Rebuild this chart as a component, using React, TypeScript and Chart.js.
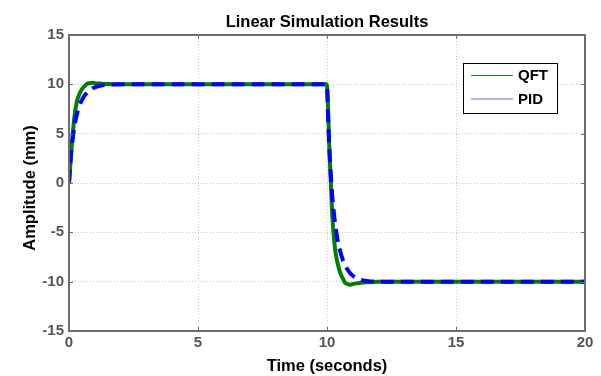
import React, { useEffect, useRef } from "react";
import { Chart, registerables } from "chart.js";

Chart.register(...registerables);

const chartTitle = "Linear Simulation Results";
const xTitle = "Time (seconds)";
const yTitle = "Amplitude (mm)";
const xTicks = [0, 5, 10, 15, 20];
const yTicks = [-15, -10, -5, 0, 5, 10, 15];

const qftTime = [0, 0.1, 0.2, 0.3, 0.4, 0.5, 0.6, 0.7, 0.8, 0.9, 1.0, 1.2, 1.5, 2, 5, 9.99,
  10.1, 10.2, 10.3, 10.4, 10.5, 10.6, 10.7, 10.8, 10.9, 11.0, 11.2, 11.5, 12, 15, 20];
const qftValues = [0, 3.5, 6.5, 8.2, 9.0, 9.5, 9.8, 10.05, 10.12, 10.15, 10.12, 10.08, 10.03, 10.0, 10.0, 10.0,
  3.0, -3.0, -6.4, -8.0, -9.0, -9.6, -10.1, -10.24, -10.3, -10.24, -10.16, -10.06, -10.0, -10.0, -10.0];

const pidTime = [0, 0.05, 0.1, 0.2, 0.3, 0.4, 0.5, 0.6, 0.7, 0.8, 0.9, 1.0, 1.2, 1.4, 1.7, 2, 5, 9.99,
  10.05, 10.1, 10.2, 10.3, 10.4, 10.5, 10.6, 10.7, 10.8, 10.9, 11.0, 11.2, 11.4, 11.7, 12, 15, 20];
const pidValues = [0, 2.0, 3.5, 5.6, 6.9, 7.8, 8.4, 8.85, 9.15, 9.4, 9.58, 9.7, 9.85, 9.94, 9.99, 10.0, 10.0, 10.0,
  6.0, 3.0, -1.2, -3.8, -5.6, -6.8, -7.7, -8.3, -8.8, -9.15, -9.4, -9.7, -9.88, -9.98, -10.0, -10.0, -10.0];

const seriesNames = ["QFT", "PID"];

const FONT = "'Liberation Sans', Arial, sans-serif";

const decorPlugin = {
  id: "decor",
  afterDraw(chart: any) {
    const { ctx, chartArea } = chart;
    const { left, right, top, bottom } = chartArea;
    ctx.save();
    // frame
    ctx.strokeStyle = "#6e6e6e";
    ctx.lineWidth = 2;
    ctx.strokeRect(left, top, right - left, bottom - top);
    // inward ticks
    ctx.lineWidth = 1;
    const xs = chart.scales.x;
    const ys = chart.scales.y;
    xTicks.forEach((v) => {
      const px = Math.round(xs.getPixelForValue(v)) + 0.5;
      ctx.beginPath();
      ctx.moveTo(px, bottom); ctx.lineTo(px, bottom - 4);
      ctx.moveTo(px, top); ctx.lineTo(px, top + 4);
      ctx.stroke();
    });
    yTicks.forEach((v) => {
      const py = Math.round(ys.getPixelForValue(v)) + 0.5;
      ctx.beginPath();
      ctx.moveTo(left, py); ctx.lineTo(left + 4, py);
      ctx.moveTo(right, py); ctx.lineTo(right - 4, py);
      ctx.stroke();
    });
    // title and axis titles
    ctx.fillStyle = "#000";
    ctx.font = `bold 16.5px ${FONT}`;
    ctx.textAlign = "center";
    ctx.textBaseline = "middle";
    ctx.fillText(chartTitle, (left + right) / 2, 22);
    ctx.fillText(xTitle, (left + right) / 2, 366);
    ctx.save();
    ctx.translate(30, (top + bottom) / 2 + 5);
    ctx.rotate(-Math.PI / 2);
    ctx.fillText(yTitle, 0, 0);
    ctx.restore();
    // legend
    const lx = 463, ly = 63, lw = 94, lh = 50;
    ctx.fillStyle = "#fff";
    ctx.fillRect(lx, ly, lw, lh);
    ctx.strokeStyle = "#000";
    ctx.lineWidth = 1;
    ctx.strokeRect(lx + 0.5, ly + 0.5, lw, lh);
    const colors = ["#1a8c1a", "#6666ff"];
    ctx.font = `bold 15px ${FONT}`;
    seriesNames.forEach((name, i) => {
      const y = ly + 12 + i * 23.5;
      ctx.strokeStyle = colors[i];
      ctx.lineWidth = 1;
      ctx.beginPath();
      ctx.moveTo(lx + 8, y + 0.5);
      ctx.lineTo(lx + 50, y + 0.5);
      ctx.stroke();
      ctx.fillStyle = "#000";
      ctx.textAlign = "left";
      ctx.fillText(name, lx + 55, y + 1);
    });
    ctx.restore();
  },
};

export default function App() {
  const ref = useRef<HTMLCanvasElement>(null);
  useEffect(() => {
    if (!ref.current) return;
    const chart = new Chart(ref.current, {
      type: "line",
      data: {
        datasets: [
          {
            label: seriesNames[0],
            data: qftTime.map((t, i) => ({ x: t, y: qftValues[i] })),
            borderColor: "#008000",
            borderWidth: 4,
            pointRadius: 0,
            cubicInterpolationMode: "monotone",
            order: 2,
          },
          {
            label: seriesNames[1],
            data: pidTime.map((t, i) => ({ x: t, y: pidValues[i] })),
            borderColor: "#0000ff",
            borderWidth: 4,
            borderDash: [13, 7],
            pointRadius: 0,
            cubicInterpolationMode: "monotone",
            order: 1,
          },
        ],
      },
      options: {
        responsive: false,
        animation: false,
        layout: { padding: { left: 0, right: 16, top: 35, bottom: 0 } },
        plugins: { legend: { display: false }, title: { display: false }, tooltip: { enabled: false } },
        scales: {
          x: {
            type: "linear",
            min: 0,
            max: 20,
            afterFit: (s: any) => { s.height = 45; },
            afterBuildTicks: (s: any) => { s.ticks = xTicks.map((v) => ({ value: v })); },
            ticks: { color: "#555555", font: { family: FONT, size: 15, weight: "bold" }, padding: 3, maxRotation: 0 },
            grid: { color: "#c8c8c8", lineWidth: 1, drawTicks: false },
            border: { display: false, dash: [1, 2] },
          },
          y: {
            type: "linear",
            min: -15,
            max: 15,
            afterFit: (s: any) => { s.width = 69; },
            afterBuildTicks: (s: any) => { s.ticks = yTicks.map((v) => ({ value: v })); },
            ticks: { color: "#555555", font: { family: FONT, size: 15, weight: "bold" }, padding: 5 },
            grid: { color: "#c8c8c8", lineWidth: 1, drawTicks: false },
            border: { display: false, dash: [1, 2] },
          },
        },
      },
      plugins: [decorPlugin],
    });
    return () => chart.destroy();
  }, []);
  return (
    <div style={{ position: "fixed", left: 0, top: 0, width: 601, height: 376, background: "#fff" }}>
      <canvas ref={ref} width={601} height={376} />
    </div>
  );
}
